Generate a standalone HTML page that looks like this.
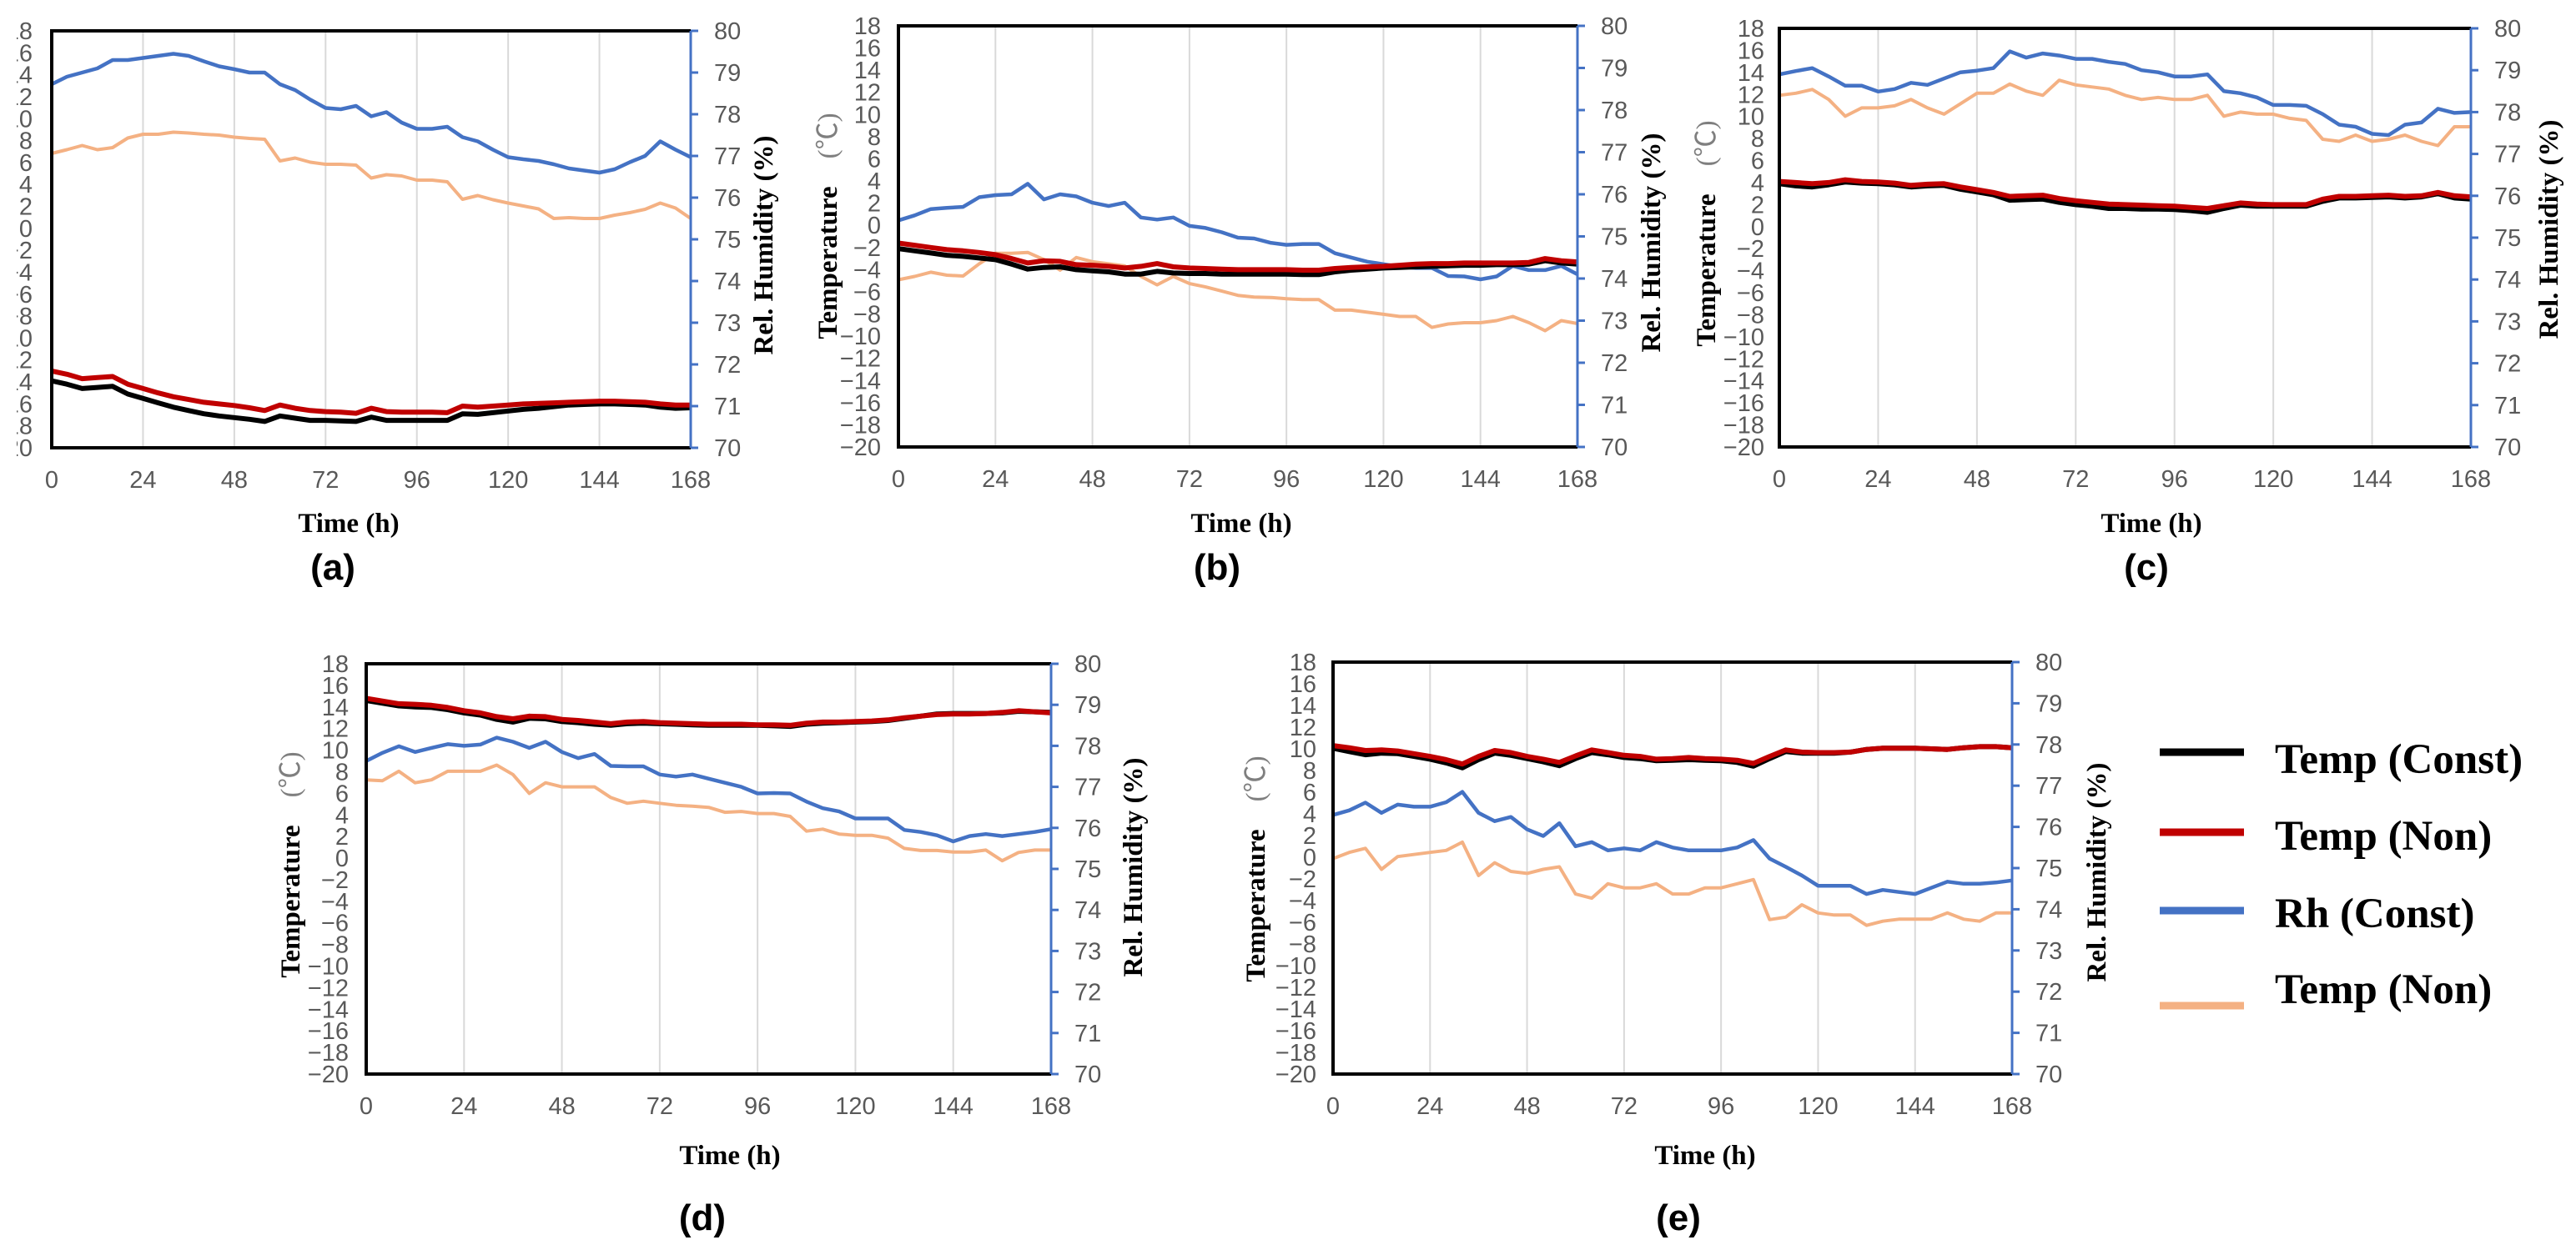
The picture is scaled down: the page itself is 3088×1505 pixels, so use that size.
<!DOCTYPE html>
<html><head><meta charset="utf-8"><title>Temperature and humidity over 168 h, panels (a) to (e)</title>
<style>
html,body{margin:0;padding:0;background:#fff;}
svg{display:block;}
</style></head>
<body>
<svg id="fig" width="3088" height="1505" viewBox="0 0 3088 1505" xmlns="http://www.w3.org/2000/svg">
<defs>
  <clipPath id="clipA"><rect x="20" y="0" width="3068" height="1505"/></clipPath>
</defs>
<rect x="0" y="0" width="3088" height="1505" fill="#fff"/>
<g id="legend">
  <line x1="2589" y1="902" x2="2690" y2="902" stroke="#000" stroke-width="9"/>
  <text x="2727" y="927" font-family="Liberation Serif, serif" font-weight="bold" font-size="51">Temp (Const)</text>
  <line x1="2589" y1="998" x2="2690" y2="998" stroke="#C00000" stroke-width="9"/>
  <text x="2727" y="1019" font-family="Liberation Serif, serif" font-weight="bold" font-size="51">Temp (Non)</text>
  <line x1="2589" y1="1092" x2="2690" y2="1092" stroke="#4472C4" stroke-width="9"/>
  <text x="2727" y="1112" font-family="Liberation Serif, serif" font-weight="bold" font-size="51">Rh (Const)</text>
  <line x1="2589" y1="1206" x2="2690" y2="1206" stroke="#F4B183" stroke-width="9"/>
  <text x="2727" y="1203" font-family="Liberation Serif, serif" font-weight="bold" font-size="51">Temp (Non)</text>
</g>
</svg>
<script>
// ---- shared axis data ----
const timeTicks = [0,24,48,72,96,120,144,168];
const tempTicks = [-20,-18,-16,-14,-12,-10,-8,-6,-4,-2,0,2,4,6,8,10,12,14,16,18];
const rhTicks = [70,71,72,73,74,75,76,77,78,79,80];
const sampleTimes = [0,4,8,12,16,20,24,28,32,36,40,44,48,52,56,60,64,68,72,76,80,84,88,92,96,100,104,108,112,116,120,124,128,132,136,140,144,148,152,156,160,164,168];

// ---- panel (a) ----
const aTempConst = [-13.9,-14.2,-14.6,-14.5,-14.4,-15.1,-15.5,-15.9,-16.3,-16.6,-16.9,-17.1,-17.25,-17.4,-17.6,-17.1,-17.3,-17.5,-17.5,-17.55,-17.6,-17.2,-17.5,-17.5,-17.5,-17.5,-17.5,-16.9,-16.95,-16.8,-16.65,-16.5,-16.4,-16.25,-16.1,-16.05,-16.0,-16.0,-16.05,-16.1,-16.3,-16.4,-16.35];
const aTempNon = [-13.0,-13.3,-13.7,-13.6,-13.5,-14.2,-14.6,-15.0,-15.35,-15.6,-15.85,-16.0,-16.15,-16.35,-16.6,-16.1,-16.4,-16.6,-16.7,-16.75,-16.85,-16.4,-16.7,-16.75,-16.75,-16.75,-16.8,-16.2,-16.3,-16.2,-16.1,-16.0,-15.95,-15.9,-15.85,-15.8,-15.75,-15.75,-15.8,-15.85,-16.0,-16.1,-16.1];
const aRhConst = [78.72,78.9,79.0,79.1,79.3,79.3,79.35,79.4,79.45,79.4,79.27,79.15,79.08,79.0,79.0,78.72,78.58,78.35,78.15,78.12,78.2,77.95,78.05,77.8,77.65,77.65,77.7,77.45,77.35,77.15,76.97,76.92,76.88,76.8,76.7,76.65,76.6,76.68,76.85,77.0,77.35,77.15,76.97];
const aRhNon = [77.06,77.15,77.25,77.15,77.2,77.43,77.52,77.52,77.57,77.55,77.52,77.5,77.45,77.42,77.4,76.88,76.95,76.85,76.8,76.8,76.78,76.47,76.55,76.52,76.42,76.42,76.38,75.96,76.05,75.95,75.87,75.8,75.73,75.5,75.52,75.5,75.5,75.58,75.64,75.72,75.87,75.75,75.5];

// ---- panel (b) ----
const bTempConst = [-2.1,-2.3,-2.5,-2.7,-2.8,-2.95,-3.1,-3.5,-3.95,-3.8,-3.75,-4.0,-4.1,-4.2,-4.4,-4.4,-4.15,-4.3,-4.35,-4.35,-4.4,-4.4,-4.4,-4.4,-4.4,-4.45,-4.45,-4.2,-4.05,-3.95,-3.85,-3.8,-3.75,-3.7,-3.65,-3.6,-3.6,-3.55,-3.55,-3.5,-3.2,-3.4,-3.5];
const bTempNon = [-1.6,-1.8,-2.0,-2.2,-2.3,-2.45,-2.65,-3.0,-3.4,-3.2,-3.25,-3.55,-3.6,-3.7,-3.85,-3.7,-3.45,-3.75,-3.85,-3.9,-3.95,-4.0,-4.0,-4.0,-4.0,-4.05,-4.05,-3.9,-3.8,-3.75,-3.7,-3.6,-3.5,-3.45,-3.45,-3.4,-3.4,-3.4,-3.4,-3.35,-3.0,-3.2,-3.3];
const bRhConst = [75.38,75.5,75.65,75.68,75.7,75.93,75.98,76.0,76.25,75.88,76.0,75.95,75.8,75.72,75.8,75.45,75.4,75.45,75.25,75.2,75.1,74.97,74.95,74.85,74.8,74.82,74.82,74.6,74.5,74.4,74.34,74.28,74.25,74.25,74.06,74.05,73.98,74.05,74.3,74.2,74.2,74.3,74.1];
const bRhNon = [73.97,74.05,74.15,74.08,74.06,74.35,74.6,74.6,74.62,74.45,74.2,74.5,74.4,74.35,74.3,74.05,73.85,74.05,73.88,73.8,73.7,73.6,73.56,73.55,73.52,73.5,73.5,73.25,73.25,73.2,73.15,73.1,73.1,72.84,72.92,72.95,72.95,73.0,73.1,72.95,72.76,73.0,72.93];

// ---- panel (c) ----
const cTempConst = [3.9,3.7,3.6,3.8,4.05,3.95,3.9,3.8,3.6,3.7,3.75,3.4,3.15,2.9,2.4,2.45,2.5,2.2,2.0,1.85,1.65,1.65,1.6,1.6,1.55,1.45,1.3,1.65,1.95,1.85,1.85,1.85,1.85,2.3,2.6,2.6,2.65,2.7,2.6,2.7,3.0,2.6,2.5];
const cTempNon = [4.1,4.0,3.9,4.0,4.25,4.1,4.05,3.95,3.75,3.85,3.9,3.6,3.35,3.1,2.75,2.8,2.85,2.55,2.35,2.2,2.05,2.0,1.95,1.9,1.85,1.75,1.65,1.9,2.15,2.05,2.0,2.0,2.0,2.5,2.75,2.75,2.8,2.85,2.75,2.8,3.1,2.8,2.7];
const cRhConst = [78.9,78.98,79.05,78.85,78.63,78.63,78.49,78.55,78.7,78.65,78.8,78.95,78.99,79.05,79.45,79.3,79.4,79.35,79.27,79.27,79.2,79.15,79.0,78.95,78.85,78.85,78.9,78.5,78.45,78.35,78.17,78.17,78.15,77.95,77.7,77.65,77.48,77.45,77.7,77.75,78.08,77.98,78.0];
const cRhNon = [78.4,78.45,78.54,78.3,77.9,78.1,78.1,78.15,78.3,78.1,77.95,78.2,78.45,78.45,78.67,78.5,78.4,78.76,78.65,78.6,78.55,78.4,78.3,78.35,78.3,78.3,78.4,77.9,78.0,77.95,77.95,77.85,77.8,77.35,77.3,77.45,77.3,77.35,77.45,77.3,77.2,77.65,77.65];

// ---- panel (d) ----
const dTempConst = [14.6,14.35,14.1,14.0,13.95,13.75,13.45,13.25,12.85,12.6,12.95,12.9,12.65,12.55,12.4,12.3,12.45,12.5,12.45,12.4,12.35,12.3,12.3,12.3,12.3,12.25,12.2,12.4,12.5,12.55,12.6,12.65,12.75,12.95,13.15,13.35,13.4,13.4,13.4,13.45,13.6,13.55,13.5];
const dTempNon = [14.8,14.55,14.3,14.25,14.15,13.95,13.65,13.45,13.1,12.9,13.15,13.1,12.85,12.75,12.6,12.45,12.6,12.65,12.55,12.5,12.45,12.4,12.4,12.4,12.35,12.35,12.3,12.5,12.6,12.6,12.65,12.7,12.8,13.0,13.15,13.3,13.35,13.35,13.4,13.5,13.65,13.55,13.45];
const dRhConst = [77.63,77.83,77.99,77.85,77.95,78.04,78.0,78.03,78.2,78.1,77.95,78.1,77.85,77.7,77.8,77.51,77.5,77.5,77.3,77.25,77.3,77.2,77.1,77.0,76.84,76.85,76.84,76.64,76.48,76.4,76.23,76.23,76.23,75.95,75.9,75.82,75.67,75.8,75.85,75.8,75.85,75.9,75.97];
const dRhNon = [77.17,77.15,77.38,77.1,77.17,77.38,77.38,77.38,77.53,77.3,76.84,77.1,77.0,77.0,77.0,76.74,76.6,76.65,76.6,76.55,76.53,76.5,76.38,76.4,76.35,76.35,76.28,75.92,75.97,75.85,75.82,75.82,75.75,75.5,75.45,75.45,75.41,75.41,75.46,75.2,75.4,75.46,75.46];

// ---- panel (e) ----
const eTempConst = [10.05,9.75,9.45,9.6,9.55,9.3,9.05,8.7,8.25,9.0,9.6,9.4,9.1,8.8,8.45,9.1,9.65,9.45,9.2,9.1,8.9,8.95,9.0,8.95,8.9,8.75,8.4,9.1,9.75,9.6,9.6,9.6,9.7,9.95,10.05,10.05,10.05,10.0,9.95,10.1,10.2,10.2,10.1];
const eTempNon = [10.3,10.1,9.85,9.9,9.8,9.55,9.3,9.0,8.6,9.3,9.85,9.65,9.3,9.05,8.75,9.35,9.9,9.65,9.4,9.3,9.05,9.1,9.2,9.1,9.05,8.95,8.65,9.3,9.9,9.7,9.65,9.65,9.7,9.95,10.05,10.05,10.05,10.0,9.95,10.1,10.2,10.2,10.1];
const eRhConst = [76.29,76.4,76.59,76.34,76.54,76.49,76.49,76.6,76.85,76.34,76.14,76.24,75.94,75.78,76.09,75.53,75.63,75.43,75.48,75.43,75.63,75.5,75.43,75.43,75.43,75.5,75.68,75.23,75.03,74.82,74.57,74.57,74.57,74.37,74.47,74.42,74.37,74.52,74.67,74.62,74.62,74.65,74.7];
const eRhNon = [75.23,75.38,75.48,74.97,75.28,75.33,75.38,75.43,75.63,74.82,75.13,74.92,74.87,74.97,75.03,74.37,74.27,74.62,74.52,74.52,74.62,74.37,74.37,74.52,74.52,74.62,74.72,73.75,73.81,74.11,73.91,73.86,73.86,73.61,73.71,73.76,73.76,73.76,73.91,73.76,73.71,73.91,73.91];

// ---- layout (pixels) ----
const panels = [
 {id:'a', L:62, R:828, T:37, B:537, labR:39, clip:true, tempTitle:null, rhX:915, rhY:294, timeX:418, timeY:627, capX:399, capY:680,
  series:[aRhNon,aRhConst,aTempConst,aTempNon]},
 {id:'b', L:1077, R:1891, T:31, B:536, labR:1056, tempTitle:[992,271], rhX:1979, rhY:291, timeX:1488, timeY:627, capX:1459, capY:680,
  series:[bRhNon,bRhConst,bTempConst,bTempNon]},
 {id:'c', L:2133, R:2962, T:34, B:536, labR:2115, tempTitle:[2045,280], rhX:3055, rhY:275, timeX:2579, timeY:627, capX:2573, capY:680,
  series:[cRhNon,cRhConst,cTempConst,cTempNon]},
 {id:'d', L:439, R:1260, T:796, B:1288, labR:418, tempTitle:[348,1037], rhX:1358, rhY:1040, timeX:875, timeY:1385, capX:842, capY:1460,
  series:[dRhNon,dRhConst,dTempConst,dTempNon]},
 {id:'e', L:1598, R:2412, T:794, B:1288, labR:1578, tempTitle:[1505,1042], rhX:2513, rhY:1046, timeX:2044, timeY:1385, capX:2012, capY:1460,
  series:[eRhNon,eRhConst,eTempConst,eTempNon]}
];

const NS = 'http://www.w3.org/2000/svg';
const fig = document.getElementById('fig');
const legend = document.getElementById('legend');
function mk(tag, attrs, parent){
  const el = document.createElementNS(NS, tag);
  for (const k in attrs) el.setAttribute(k, attrs[k]);
  parent.appendChild(el);
  return el;
}

panels.forEach(p => {
  const g = mk('g', {}, fig);
  
  
  fig.insertBefore(g, legend);
  const xS = t => p.L + (t / 168) * (p.R - p.L);
  const yT = v => p.B - ((v + 20) / 38) * (p.B - p.T);
  const yH = v => p.B - ((v - 70) / 10) * (p.B - p.T);

  timeTicks.forEach(t => {
    if (t === 0 || t === 168) return;
    const gl = mk('line', {x1:xS(t), x2:xS(t), y1:p.T, y2:p.B, stroke:'#d9d9d9', 'stroke-width':2}, g);
    
    
  });

  const specs = [
    {arr:p.series[0], y:yH, color:'#F4B183', w:4, name:'rh-non-line'},
    {arr:p.series[1], y:yH, color:'#4472C4', w:4.5, name:'rh-const-line'},
    {arr:p.series[2], y:yT, color:'#000000', w:6, name:'temp-const-line'},
    {arr:p.series[3], y:yT, color:'#C00000', w:6, name:'temp-non-line'}
  ];
  specs.forEach(s => {
    const pts = s.arr.map((v, i) => xS(sampleTimes[i]).toFixed(1) + ',' + s.y(v).toFixed(1)).join(' ');
    const pl = mk('polyline', {points:pts, fill:'none', stroke:s.color, 'stroke-width':s.w, 'stroke-linejoin':'round'}, g);
    
    
  });

  const top = mk('line', {x1:p.L, x2:p.R, y1:p.T, y2:p.T, stroke:'#000', 'stroke-width':4}, g);
  
  
  const bot = mk('line', {x1:p.L, x2:p.R, y1:p.B, y2:p.B, stroke:'#000', 'stroke-width':4}, g);
  
  
  const lft = mk('line', {x1:p.L, x2:p.L, y1:p.T - 2, y2:p.B + 2, stroke:'#000', 'stroke-width':4}, g);
  
  
  const rgt = mk('line', {x1:p.R, x2:p.R, y1:p.T, y2:p.B, stroke:'#4472C4', 'stroke-width':3}, g);
  
  

  const lg = mk('g', p.clip ? {'clip-path':'url(#clipA)'} : {}, g);
  
  
  tempTicks.forEach(v => {
    const t = mk('text', {x:p.labR, y:yT(v) + 10, 'text-anchor':'end', 'font-family':'Liberation Sans, sans-serif', 'font-size':29, fill:'#595959'}, lg);
    t.textContent = v < 0 ? '\u2212' + Math.abs(v) : String(v);
    
    
  });
  rhTicks.forEach(v => {
    const tk = mk('line', {x1:p.R, x2:p.R + 9, y1:yH(v), y2:yH(v), stroke:'#4472C4', 'stroke-width':3}, g);
    
    
    const t = mk('text', {x:p.R + 28, y:yH(v) + 10, 'font-family':'Liberation Sans, sans-serif', 'font-size':29, fill:'#595959'}, g);
    t.textContent = String(v);
    
    
  });
  timeTicks.forEach(v => {
    const t = mk('text', {x:xS(v), y:p.B + 48, 'text-anchor':'middle', 'font-family':'Liberation Sans, sans-serif', 'font-size':29, fill:'#595959'}, g);
    t.textContent = String(v);
    
    
  });
  const xt = mk('text', {x:p.timeX, y:p.timeY + 11, 'text-anchor':'middle', 'font-family':'Liberation Serif, serif', 'font-weight':'bold', 'font-size':33, fill:'#000'}, g);
  xt.textContent = 'Time (h)';
  
  

  const rt = mk('text', {x:0, y:0, transform:'translate(' + (p.rhX + 11) + ',' + p.rhY + ') rotate(-90)', 'text-anchor':'middle', 'font-family':'Liberation Serif, serif', 'font-weight':'bold', 'font-size':33, fill:'#000'}, g);
  rt.textContent = 'Rel. Humidity (%)';
  
  

  if (p.tempTitle) {
    const tt = mk('text', {x:0, y:0, transform:'translate(' + (p.tempTitle[0] + 11) + ',' + p.tempTitle[1] + ') rotate(-90)', 'text-anchor':'middle', 'font-family':'Liberation Serif, "Noto Sans CJK SC", serif', 'font-size':33, fill:'#000'}, g);
    
    
    const s1 = mk('tspan', {'font-weight':'bold'}, tt);
    s1.textContent = 'Temperature';
    const s2 = mk('tspan', {fill:'#7f7f7f'}, tt);
    s2.textContent = '\u3000(\u2103)';
  }

  const cap = mk('text', {x:p.capX, y:p.capY + 15, 'text-anchor':'middle', 'font-family':'Liberation Sans, sans-serif', 'font-weight':'bold', 'font-size':44, fill:'#000'}, g);
  cap.textContent = '(' + p.id + ')';
  
  
});
</script>
</body></html>
